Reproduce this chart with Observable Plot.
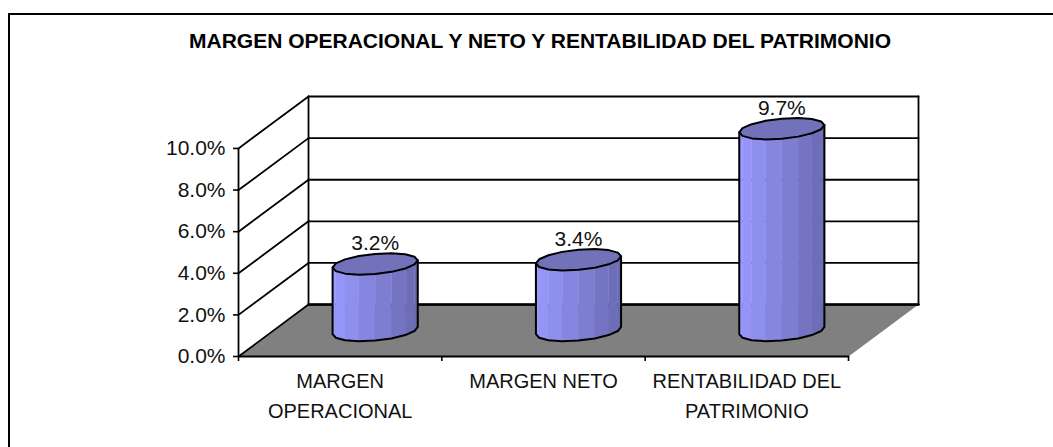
<!DOCTYPE html>
<html><head><meta charset="utf-8">
<script src="https://cdn.jsdelivr.net/npm/d3@7"></script>
<script src="https://cdn.jsdelivr.net/npm/@observablehq/plot@0.6"></script>
<style>
html,body{margin:0;padding:0;background:#fff}
#chart{position:relative;width:1053px;height:447px;overflow:hidden}
#chart svg{display:block;position:absolute;left:0;top:0;background:transparent}
#border{position:absolute;left:8px;top:13px;width:1100px;height:500px;border:2px solid #000;box-sizing:border-box}
</style></head><body><div id="chart"><div id="border"></div></div>
<script>
const title = "MARGEN OPERACIONAL Y NETO Y RENTABILIDAD DEL PATRIMONIO";
const categories = ["MARGEN\nOPERACIONAL", "MARGEN NETO", "RENTABILIDAD DEL\nPATRIMONIO"];
const values = [3.2, 3.4, 9.7];
const labels = ["3.2%", "3.4%", "9.7%"];
const yTicks = [0, 2, 4, 6, 8, 10];

// oblique projection: depth 0 = front edge, depth 1 = back wall
const depthX = 0.3443, depthY = 2.496;
const n = categories.length, yMax = 10;
const P = (x, y, d = 0) => ({x: x + d * depthX, y: y + d * depthY});

const floor = [P(0,0), P(n,0), P(n,0,1), P(0,0,1)];
const sideLines = yTicks.flatMap(v => [{...P(0,v), k:v}, {...P(0,v,1), k:v}]);
const backLines = yTicks.flatMap(v => [{...P(0,v,1), k:v}, {...P(n,v,1), k:v}]);
const backEdges = [0, n].flatMap(x => [{...P(x,0,1), k:x}, {...P(x,yMax,1), k:x}]);

// cylinder: a circle in the floor plane, sampled as a coarse polygon
const rx = 0.197, rd = 0.206, segs = 16;
const t0 = Math.atan2(rd * depthX, rx);
const rim = (i, v, t) => P(i + 0.5 + rx * Math.cos(t), v, 0.5 + rd * Math.sin(t));
const ang = k => t0 + k * 2 * Math.PI / segs;
const color = d3.interpolateRgb("#9999ff", "#6a6ab2");
const halfW = Math.hypot(rx, rd * depthX);
const strips = [], outlines = [], tops = [], labelRows = [];
values.forEach((v, i) => {
  const cx = P(i + 0.5, 0, 0.5).x;
  for (let k = segs / 2; k < segs; k++) {
    const a = ang(k), b = ang(k + 1);
    const frac = (rim(i, 0, (a + b) / 2).x - cx + halfW) / (2 * halfW);
    const c = d3.rgb(color(frac)).formatHex();
    const key = i + "-" + k;
    [rim(i,0,a), rim(i,0,b), rim(i,v,b), rim(i,v,a)].forEach(p => strips.push({...p, key, c}));
  }
  for (let k = 0; k <= segs; k++) tops.push({...rim(i, v, ang(k)), key: i});
  // silhouette: left edge, front base, right edge
  const path = [rim(i, v, ang(segs / 2))];
  for (let k = segs / 2; k <= segs; k++) path.push(rim(i, 0, ang(k)));
  path.push(rim(i, v, ang(segs)));
  path.forEach(p => outlines.push({...p, key: i}));
  labelRows.push({...P(i + 0.5, v, 0.5), text: labels[i]});
});

const font = "'Liberation Sans', Arial, sans-serif";
const plot = Plot.plot({
  width: 1053, height: 447,
  marginLeft: 238, marginRight: 135, marginTop: 96, marginBottom: 91,
  style: {fontFamily: font, background: "transparent", overflow: "visible"},
  x: {domain: [0, n + depthX], axis: null},
  y: {domain: [0, yMax + depthY], axis: null},
  marks: [
    Plot.line(floor, {x: "x", y: "y", fill: "#808080", stroke: "none"}),
    Plot.line(sideLines, {x: "x", y: "y", z: "k", stroke: "#000", strokeWidth: 1.8}),
    Plot.line(backLines, {x: "x", y: "y", z: "k", stroke: "#000", strokeWidth: 1.8}),
    Plot.line(backEdges, {x: "x", y: "y", z: "k", stroke: "#000", strokeWidth: 1.8}),
    Plot.line([P(0,0,1), P(n,0,1)], {x: "x", y: "y", stroke: "#000", strokeWidth: 2.4}),
    Plot.line([P(0,0), P(n,0)], {x: "x", y: "y", stroke: "#000", strokeWidth: 1.8}),
    Plot.ruleX([0], {y1: 0, y2: yMax, stroke: "#000", strokeWidth: 1.8}),
    Plot.axisY({ticks: yTicks, tickFormat: d => d.toFixed(1) + "%", tickSize: 5, tickPadding: 8, fontSize: 21, label: null, stroke: "#000", strokeWidth: 1.6, fill: "#111"}),
    Plot.axisX({ticks: d3.range(n + 1), tickFormat: () => "", tickSize: 5, label: null, stroke: "#000", strokeWidth: 1.6}),
    Plot.line(strips, {x: "x", y: "y", z: "key", fill: "c", stroke: "c", strokeWidth: 0.6}),
    Plot.line(outlines, {x: "x", y: "y", z: "key", stroke: "#000", strokeWidth: 2, strokeLinejoin: "round"}),
    Plot.line(tops, {x: "x", y: "y", z: "key", fill: "#7272bb", stroke: "#000", strokeWidth: 2, strokeLinejoin: "round"}),
    Plot.text(labelRows, {x: "x", y: "y", text: "text", dy: -20.5, fontSize: 21, fill: "#111"}),
    Plot.text(categories, {x: (d, i) => i + 0.5, y: () => 0, text: d => d, dy: 10, lineAnchor: "top", lineHeight: 1.5, fontSize: 20, fill: "#111"}),
    Plot.text([title], {frameAnchor: "top", dx: -38.5, dy: -55, text: d => d, fontWeight: "bold", fontSize: 21, fill: "#000", lineAnchor: "middle"})
  ]
});
document.getElementById("chart").appendChild(plot);
</script></body></html>
